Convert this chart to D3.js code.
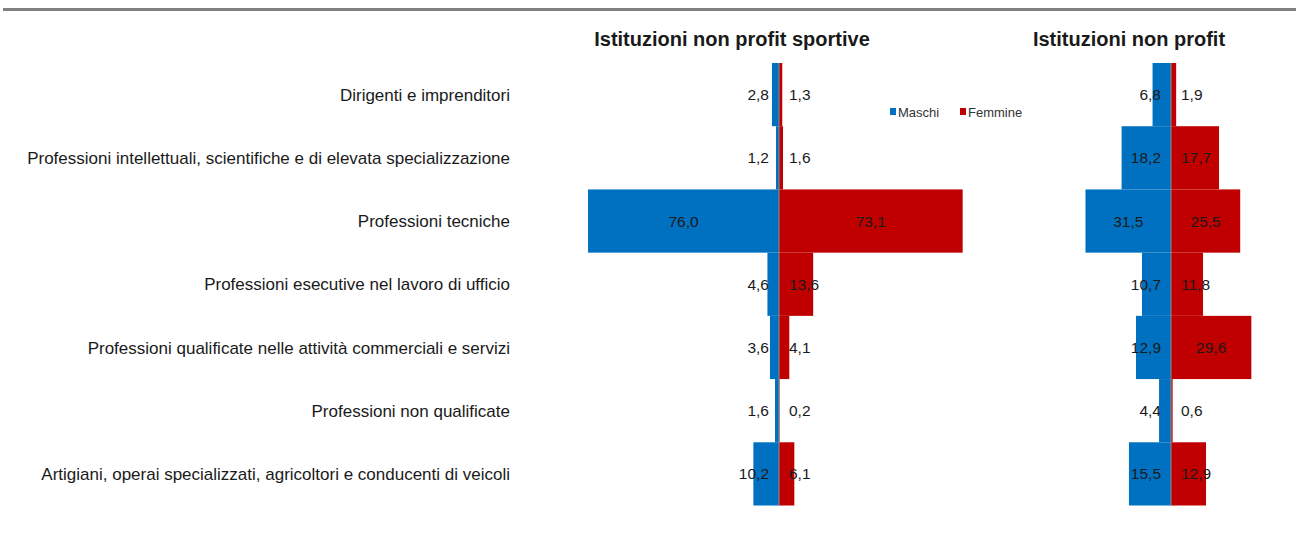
<!DOCTYPE html>
<html lang="it">
<head>
<meta charset="utf-8"/>
<title>Istituzioni non profit - professioni per sesso</title>
<script src="https://d3js.org/d3.v7.min.js"></script>
<style>
  body { margin: 0; background: #fff; }
  svg { display: block; font-family: "Liberation Sans", Arial, sans-serif; }
</style>
</head>
<body>
<script>
// data
var categories = [
  "Dirigenti e imprenditori",
  "Professioni intellettuali, scientifiche e di elevata specializzazione",
  "Professioni tecniche",
  "Professioni esecutive nel lavoro di ufficio",
  "Professioni qualificate nelle attività commerciali e servizi",
  "Professioni non qualificate",
  "Artigiani, operai specializzati, agricoltori e conducenti di veicoli"
];
var sportMaschi  = [2.8, 1.2, 76.0, 4.6, 3.6, 1.6, 10.2];
var sportFemmine = [1.3, 1.6, 73.1, 13.6, 4.1, 0.2, 6.1];
var allMaschi    = [6.8, 18.2, 31.5, 10.7, 12.9, 4.4, 15.5];
var allFemmine   = [1.9, 17.7, 25.5, 11.8, 29.6, 0.6, 12.9];
var seriesNames  = ["Maschi", "Femmine"];
var titles       = ["Istituzioni non profit sportive", "Istituzioni non profit"];

var w = 1296;
var h = 538;
var blue = "#0070c0";
var red = "#c00000";

var svg = d3.select("body").append("svg")
  .attr("width", w)
  .attr("height", h);

// grey rule across the top
svg.append("rect")
  .attr("x", 3).attr("y", 8)
  .attr("width", w - 3).attr("height", 3)
  .attr("fill", "#808080");

var yScale = d3.scaleBand()
  .domain(categories)
  .range([63, 505.5])
  .padding(0);

// category labels
svg.selectAll("text.cat")
  .data(categories)
  .enter()
  .append("text")
  .attr("class", "cat")
  .attr("x", 510)
  .attr("y", function(d) { return yScale(d) + yScale.bandwidth() / 2; })
  .attr("dy", "0.36em")
  .attr("text-anchor", "end")
  .attr("font-size", "17px")
  .attr("fill", "#1a1a1a")
  .text(function(d) { return d; });

var fmt = function(v) { return d3.format(".1f")(v).replace(".", ","); };

// draws one pyramid
function pyramid(maschi, femmine, xScale, title, titleX) {
  var g = svg.append("g");
  var x0 = xScale(0);

  g.append("text")
    .attr("x", titleX)
    .attr("y", 46)
    .attr("text-anchor", "middle")
    .attr("font-size", "20px")
    .attr("font-weight", "bold")
    .attr("fill", "#1a1a1a")
    .text(title);

  var rows = categories.map(function(c, i) { return {cat: c, m: maschi[i], f: femmine[i]}; });

  g.selectAll("rect.m")
    .data(rows)
    .enter()
    .append("rect")
    .attr("x", function(d) { return xScale(-d.m); })
    .attr("y", function(d) { return yScale(d.cat); })
    .attr("width", function(d) { return x0 - xScale(-d.m); })
    .attr("height", yScale.bandwidth())
    .attr("fill", blue);

  g.selectAll("rect.f")
    .data(rows)
    .enter()
    .append("rect")
    .attr("x", x0)
    .attr("y", function(d) { return yScale(d.cat); })
    .attr("width", function(d) { return xScale(d.f) - x0; })
    .attr("height", yScale.bandwidth())
    .attr("fill", red);

  // thin grey axis line in the middle
  g.append("line")
    .attr("x1", x0).attr("x2", x0)
    .attr("y1", yScale.range()[0]).attr("y2", yScale.range()[1])
    .attr("stroke", "#8c8c8c")
    .attr("stroke-width", 1);

  // value labels: centred in the bar, pushed out if the bar is too thin
  function addLabels(key, sign) {
    g.selectAll("text.v" + key)
      .data(rows)
      .enter()
      .append("text")
      .attr("class", "v" + key)
      .attr("y", function(d) { return yScale(d.cat) + yScale.bandwidth() / 2; })
      .attr("dy", "0.36em")
      .attr("text-anchor", "middle")
      .attr("font-size", "15.5px")
      .attr("fill", "#1a1a1a")
      .text(function(d) { return fmt(d[key]); })
      .attr("x", function(d) {
        var half = Math.abs(xScale(sign * d[key]) - x0) / 2;
        var tw = this.getComputedTextLength();
        return x0 + sign * Math.max(half, tw / 2 + 10);
      });
  }
  addLabels("m", -1);
  addLabels("f", 1);
}

var xSport = d3.scaleLinear().domain([-80, 80]).range([578, 980]);
var xAll = d3.scaleLinear().domain([-35, 35]).range([1076, 1266]);

pyramid(sportMaschi, sportFemmine, xSport, titles[0], 732);
pyramid(allMaschi, allFemmine, xAll, titles[1], 1129);

// legend
var legend = svg.append("g").attr("transform", "translate(890,112)");
var legendX = [0, 70];
seriesNames.forEach(function(name, i) {
  legend.append("rect")
    .attr("x", legendX[i]).attr("y", -4)
    .attr("width", 6).attr("height", 7)
    .attr("fill", i === 0 ? blue : red);
  legend.append("text")
    .attr("x", legendX[i] + 8)
    .attr("y", 0)
    .attr("dy", "0.36em")
    .attr("font-size", "13px")
    .attr("fill", "#333")
    .text(name);
});
</script>
</body>
</html>
